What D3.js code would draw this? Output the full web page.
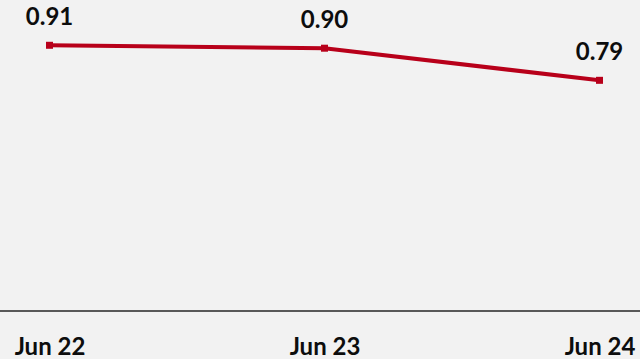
<!DOCTYPE html>
<html>
<head>
<meta charset="utf-8">
<script src="https://cdn.jsdelivr.net/npm/d3@7"></script>
<style>
  html, body { margin: 0; padding: 0; background: #f2f2f2; }
  svg { display: block; }
  text { font-family: Lato, "Open Sans", sans-serif; font-weight: 700; fill: #0d0d0d; }
</style>
</head>
<body>
<svg id="chart" width="640" height="359"></svg>
<script>
// Ratio by period
const categories = ["Jun 22", "Jun 23", "Jun 24"];
const values = [0.91, 0.90, 0.79];
const valueLabels = ["0.91", "0.90", "0.79"];

const width = 640, height = 359;
const svg = d3.select("#chart");

svg.append("rect").attr("width", width).attr("height", height).attr("fill", "#f2f2f2");

const x = d3.scalePoint().domain(categories).range([49.5, 599.5]);
const y = d3.scaleLinear().domain([0, 1]).range([311, 19]);

// Baseline across the full width
svg.append("line")
  .attr("x1", 0).attr("x2", width)
  .attr("y1", y(0)).attr("y2", y(0))
  .attr("stroke", "#262626").attr("stroke-width", 1.5);

// Category axis
const axis = svg.append("g")
  .attr("transform", `translate(0,${y(0)})`)
  .call(d3.axisBottom(x).tickSize(0).tickPadding(27));
axis.select(".domain").remove();
axis.selectAll("text")
  .attr("font-family", "Lato, 'Open Sans', sans-serif")
  .attr("font-size", 24)
  .attr("font-weight", 700)
  .attr("fill", "#0d0d0d");

const pts = categories.map((c, i) => ({ c, v: values[i], label: valueLabels[i] }));

const red = "#b8001a";
svg.append("path")
  .datum(pts)
  .attr("fill", "none")
  .attr("stroke", red)
  .attr("stroke-width", 4)
  .attr("d", d3.line().x(d => x(d.c)).y(d => y(d.v)));

svg.selectAll("rect.marker")
  .data(pts)
  .join("rect")
  .attr("class", "marker")
  .attr("x", d => x(d.c) - 3.5)
  .attr("y", d => y(d.v) - 3.5)
  .attr("width", 7).attr("height", 7)
  .attr("fill", red);

svg.selectAll("text.val")
  .data(pts)
  .join("text")
  .attr("class", "val")
  .attr("x", d => x(d.c))
  .attr("y", d => y(d.v) - 20)
  .attr("text-anchor", "middle")
  .attr("font-size", 24)
  .text(d => d.label);
</script>
</body>
</html>
